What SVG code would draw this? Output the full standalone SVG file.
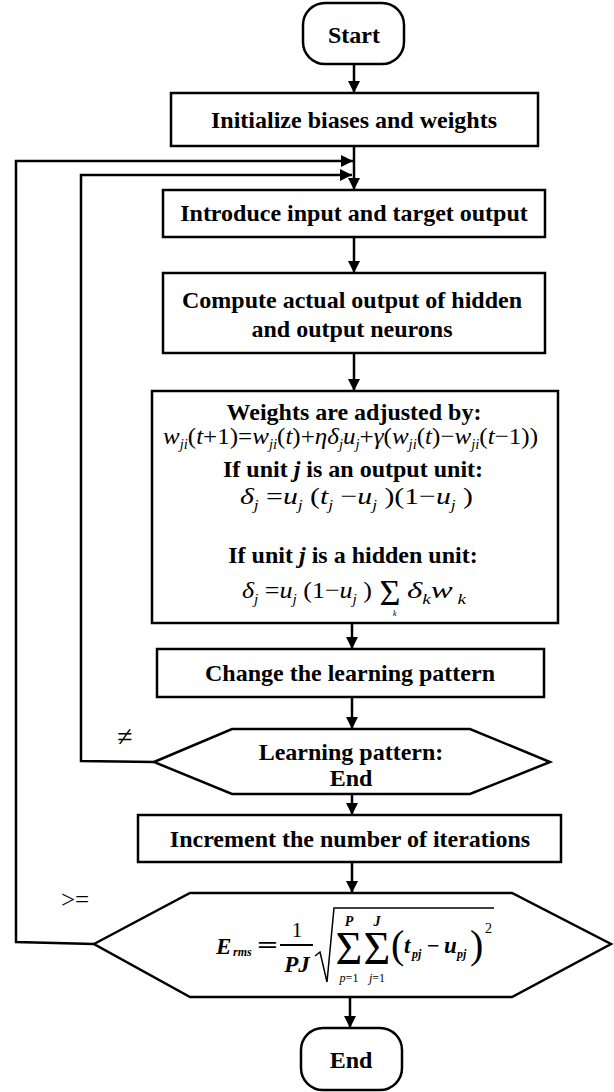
<svg xmlns="http://www.w3.org/2000/svg" width="614" height="1092" viewBox="0 0 614 1092">
<defs>
<style>
.n{fill:#fff;stroke:#000;stroke-width:2.5}
.c{fill:none;stroke:#000;stroke-width:2.5}
.t{font-family:"Liberation Serif","Times New Roman",serif;font-weight:bold;font-size:24px;text-anchor:middle;fill:#000}
.m{font-family:"Liberation Serif","Times New Roman",serif;font-style:italic;font-size:24px;fill:#000}
.u{font-style:normal}
.s{font-size:14px}
.e{font-family:"Liberation Serif","Times New Roman",serif;font-weight:bold;font-style:italic;fill:#000}
.r{font-family:"Liberation Serif","DejaVu Serif",serif;fill:#000}
</style>
<marker id="a" markerUnits="userSpaceOnUse" markerWidth="12" markerHeight="12" refX="12" refY="6" orient="auto">
<path d="M0,0 L12,6 L0,12 z" fill="#000"/>
</marker>
</defs>
<rect width="614" height="1092" fill="#fff"/>

<g id="connectors">
<line class="c" x1="354" y1="64" x2="354" y2="93" marker-end="url(#a)"/>
<line class="c" x1="354" y1="146" x2="354" y2="190" marker-end="url(#a)"/>
<polyline class="c" points="94,944 16,942 16,161 353,161" marker-end="url(#a)"/>
<polyline class="c" points="154,762 81,761 81,175 352,175" marker-end="url(#a)"/>
<line class="c" x1="354" y1="237" x2="354" y2="273" marker-end="url(#a)"/>
<line class="c" x1="354" y1="353" x2="354" y2="391" marker-end="url(#a)"/>
<line class="c" x1="352" y1="623" x2="352" y2="649" marker-end="url(#a)"/>
<line class="c" x1="352" y1="697" x2="352" y2="729" marker-end="url(#a)"/>
<line class="c" x1="352" y1="788" x2="352" y2="815" marker-end="url(#a)"/>
<line class="c" x1="352" y1="862" x2="352" y2="893" marker-end="url(#a)"/>
<line class="c" x1="350" y1="997" x2="350" y2="1028" marker-end="url(#a)"/>
<text class="r" x="125" y="746" font-size="28" text-anchor="middle">≠</text>
<text class="r" x="75" y="908" font-size="25" text-anchor="middle">&gt;=</text>
</g>

<g id="start">
<rect class="n" x="303" y="3" width="101" height="61" rx="22"/>
<text class="t" x="354" y="43">Start</text>
</g>

<g id="init">
<rect class="n" x="171" y="93" width="367" height="53"/>
<text class="t" x="354" y="128">Initialize biases and weights</text>
</g>

<g id="introduce">
<rect class="n" x="163" y="190" width="382" height="47"/>
<text class="t" x="354" y="221">Introduce input and target output</text>
</g>

<g id="compute">
<rect class="n" x="163" y="273" width="382" height="80"/>
<text class="t" x="352" y="308">Compute actual output of hidden</text>
<text class="t" x="352" y="337">and output neurons</text>
</g>

<g id="weights">
<rect class="n" x="152" y="391" width="406" height="232"/>
<text class="t" x="354" y="420">Weights are adjusted by:</text>
<text class="m" x="163" y="444" textLength="375" lengthAdjust="spacingAndGlyphs">w<tspan class="s" dy="5">ji</tspan><tspan class="u" dy="-5">(</tspan>t<tspan class="u">+1)=</tspan>w<tspan class="s" dy="5">ji</tspan><tspan class="u" dy="-5">(</tspan>t<tspan class="u">)+</tspan>ηδ<tspan class="s" dy="5">j</tspan><tspan dy="-5">u</tspan><tspan class="s" dy="5">j</tspan><tspan class="u" dy="-5">+</tspan>γ<tspan class="u">(</tspan>w<tspan class="s" dy="5">ji</tspan><tspan class="u" dy="-5">(</tspan>t<tspan class="u">)−</tspan>w<tspan class="s" dy="5">ji</tspan><tspan class="u" dy="-5">(</tspan>t<tspan class="u">−1))</tspan></text>
<text class="t" x="353" y="477">If unit <tspan font-style="italic">j</tspan> is an output unit:</text>
<text class="m" x="240" y="504" textLength="233" lengthAdjust="spacingAndGlyphs">δ<tspan class="s" dy="6">j</tspan><tspan class="u" dy="-6"> =</tspan>u<tspan class="s" dy="6">j</tspan><tspan class="u" dy="-6"> (</tspan>t<tspan class="s" dy="6">j</tspan><tspan class="u" dy="-6"> −</tspan>u<tspan class="s" dy="6">j</tspan><tspan class="u" dy="-6"> )(1−</tspan>u<tspan class="s" dy="6">j</tspan><tspan class="u" dy="-6"> )</tspan></text>
<text class="t" x="353" y="563">If unit <tspan font-style="italic">j</tspan> is a hidden unit:</text>
<text class="m" x="242" y="598" textLength="130" lengthAdjust="spacingAndGlyphs">δ<tspan class="s" dy="6">j</tspan><tspan class="u" dy="-6"> =</tspan>u<tspan class="s" dy="6">j</tspan><tspan class="u" dy="-6"> (1−</tspan>u<tspan class="s" dy="6">j</tspan><tspan class="u" dy="-6"> )</tspan></text>
<text class="r" x="390" y="605" font-size="36" text-anchor="middle">Σ</text>
<text class="r" x="393" y="616" style="font-size:8px;font-style:italic">k</text>
<text class="m" x="407" y="598" textLength="59" lengthAdjust="spacingAndGlyphs">δ<tspan class="s" dy="6">k</tspan><tspan dy="-6">w</tspan><tspan class="s" dy="6"> k</tspan></text>
</g>

<g id="change">
<rect class="n" x="157" y="649" width="387" height="48"/>
<text class="t" x="350" y="681">Change the learning pattern</text>
</g>

<g id="learning">
<polygon class="n" points="154,762 232,729 470,729 550,762 470,794 232,794"/>
<text class="t" x="351" y="760">Learning pattern:</text>
<text class="t" x="351" y="786">End</text>
</g>

<g id="increment">
<rect class="n" x="138" y="815" width="423" height="47"/>
<text class="t" x="350" y="847">Increment the number of iterations</text>
</g>

<g id="erms">
<polygon class="n" points="94,944 190,893 512,893 611,944 512,997 190,997"/>
<text class="e" x="216" y="954" font-size="23">E</text>
<text class="e" x="233" y="956" font-size="12">rms</text>
<text class="r" x="257" y="953" font-size="24" font-weight="bold" textLength="21" lengthAdjust="spacingAndGlyphs">=</text>
<text class="r" x="297" y="937" font-size="21" text-anchor="middle">1</text>
<line x1="280" y1="945" x2="313" y2="945" stroke="#000" stroke-width="1.8"/>
<text class="e" x="297" y="972" font-size="23" text-anchor="middle">PJ</text>
<polyline points="315,956 320,952 327,982 334,908 494,908" fill="none" stroke="#000" stroke-width="1.5"/>
<text class="r" x="349" y="964" font-size="46" text-anchor="middle">Σ</text>
<text class="r" x="377" y="964" font-size="46" text-anchor="middle">Σ</text>
<text class="e" x="349" y="926" font-size="14" text-anchor="middle">P</text>
<text class="e" x="377" y="926" font-size="14" text-anchor="middle">J</text>
<text class="r" x="349" y="982" font-size="12" text-anchor="middle"><tspan font-style="italic">p</tspan>=1</text>
<text class="r" x="377" y="982" font-size="12" text-anchor="middle"><tspan font-style="italic">j</tspan>=1</text>
<text class="r" x="391" y="958" font-size="40">(</text>
<text class="e" x="404" y="953" font-size="23">t</text>
<text class="e" x="412" y="958" font-size="12">pj</text>
<text class="r" x="427" y="953" font-size="22" font-weight="bold">−</text>
<text class="e" x="444" y="953" font-size="23">u</text>
<text class="e" x="457" y="958" font-size="12">pj</text>
<text class="r" x="470" y="958" font-size="40">)</text>
<text class="r" x="485" y="933" font-size="14">2</text>
</g>

<g id="end">
<rect class="n" x="301" y="1028" width="101" height="62" rx="22"/>
<text class="t" x="351" y="1068">End</text>
</g>
</svg>
